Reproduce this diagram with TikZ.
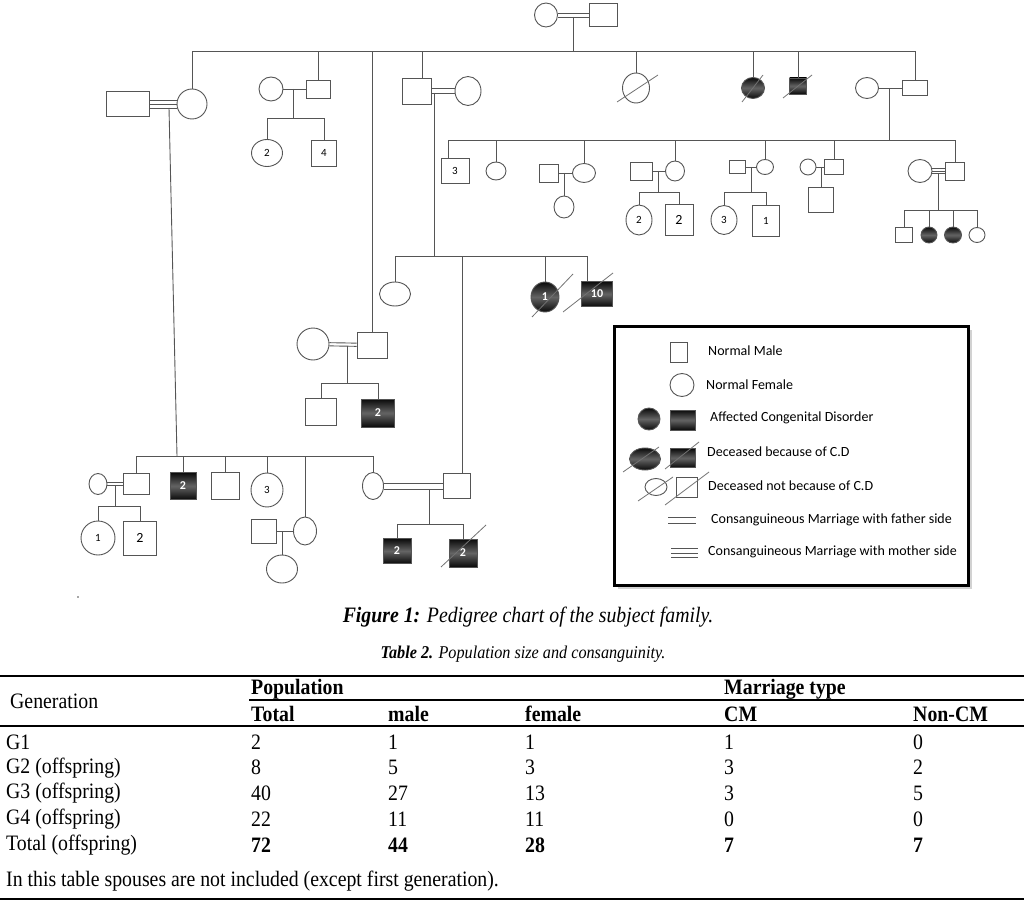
\documentclass[tikz,border=0pt]{standalone}
\usepackage{fontspec}
\setmainfont{Liberation Serif}
\newfontfamily\lgfont{Carlito}
\newfontfamily\tabfont[FakeStretch=0.9]{Liberation Serif}
\usetikzlibrary{shapes.geometric,calc,shadows}
\definecolor{lnc}{RGB}{85,85,85}
\definecolor{slc}{RGB}{115,115,115}
\definecolor{afc}{RGB}{10,10,10}
\definecolor{afm}{RGB}{100,100,100}
\newcommand{\numf}{\lgfont\fontsize{11}{13}\selectfont}
\newcommand{\numl}{\lgfont\fontsize{14}{16}\selectfont}
\newcommand{\afnum}{\lgfont\fontsize{12}{14}\selectfont\bfseries}
\newcommand{\tabf}{\tabfont\fontsize{22}{24}\selectfont}
\newcommand{\dcsd}[3]{\draw[dl] ($(#1)+(#2)$) -- ($(#1)+(#3)$);}
\tikzset{
  ln/.style={draw=lnc,line width=0.9pt},
  dl/.style={draw=slc,line width=0.8pt},
  ml/.style 2 args={rectangle,draw=lnc,line width=0.9pt,fill=white,
    minimum width=#1pt,minimum height=#2pt,inner sep=0pt,font=\numf},
  fm/.style 2 args={ellipse,draw=lnc,line width=0.9pt,fill=white,
    minimum width=#1pt,minimum height=#2pt,inner sep=0pt,font=\numf},
  aff/.style={top color=afc,bottom color=afc,middle color=afm,text=white,font=\afnum},
  mar2/.style={draw=none,
    postaction={ln,transform canvas={yshift=#1}},
    postaction={ln,transform canvas={yshift=-#1}}},
  mar2/.default=2pt,
  mar3/.style={ln,
    postaction={ln,transform canvas={yshift=#1}},
    postaction={ln,transform canvas={yshift=-#1}}},
  mar3/.default=4pt,
  lgbox/.style={rectangle,draw=black,line width=2.6pt,fill=white,
    minimum width=354pt,minimum height=259pt,
    drop shadow={shadow xshift=3pt,shadow yshift=-3pt,fill=black!35}},
  lgt/.style={anchor=west,inner sep=0pt,font=\lgfont\fontsize{14}{16}\selectfont},
  tb/.style={anchor=west,inner sep=0pt,font=\tabf},
}

\begin{document}
\begin{tikzpicture}[x=1pt,y=-1pt]
  \useasboundingbox (0,0) rectangle (1024,901);

  % Generation I
  \node[fm={23}{24}] (gf) at (546,15) {};
  \node[ml={28}{23}] (gm) at (603,15) {};
  \path[mar2] (gf) -- (gm);
  \coordinate (gj) at (573,17);
  \coordinate (s2) at (0,51);
  \draw[ln] (gj) -- (gj |- s2);

  % Generation II
  \node[fm={30}{30}] (a) at (192,104) {};
  \node[ml={43}{25}] (as) at (128,104) {};
  \draw[mar3] (as) -- (a);
  \node[ml={24}{18}] (b) at (318,89) {};
  \node[fm={24}{24}] (bs) at (271,89) {};
  \draw[ln] (bs) -- (b);
  \node[ml={30}{26}] (c) at (372,345) {};
  \node[fm={32}{32}] (cs) at (313,344) {};
  \path[mar2=1.6pt] (cs) -- (c);
  \node[ml={29}{26}] (d) at (417,91) {};
  \node[fm={26}{29}] (ds) at (468,91) {};
  \path[mar2=2.5pt] (d) -- (ds);
  \node[fm={27}{30}] (e) at (636,88) {};
  \node[fm={23}{21},aff] (f) at (753,88) {};
  \node[ml={17}{16},aff] (g) at (798,86) {};
  \node[ml={25}{15}] (h) at (915,88) {};
  \node[fm={23}{21}] (hs) at (867,88) {};
  \draw[ln] (hs) -- (h);
  \dcsd{e}{-19,14}{22,-13}
  \dcsd{f}{-11,14}{10,-13}
  \dcsd{g}{-15,12}{14,-11}

  \draw[ln] (a.north) |- (h.north |- s2) -- (h.north);
  \draw[ln] (c.north) -- (c.north |- s2);
  \draw[ln] ([xshift=5pt]d.north) -- ([xshift=5pt]d.north |- s2);
  \foreach \n in {b,e,f,g}
    \draw[ln] (\n.north) -- (\n.north |- s2);

  % children of b
  \coordinate (bj) at (293,89);
  \coordinate (s3b) at (0,118);
  \node[fm={31}{27}] (b1) at (267,153) {2};
  \node[ml={25}{26}] (b2) at (324,153) {4};
  \draw[ln] (bj) -- (bj |- s3b);
  \draw[ln] (b1.north) |- (b2.north |- s3b) -- (b2.north);

  % children of c
  \coordinate (cj) at (347,346);
  \coordinate (s3c) at (0,383);
  \node[ml={31}{27}] (c1) at (321,412) {};
  \node[ml={33}{28},aff] (c2) at (378,413) {2};
  \draw[ln] (cj) -- (cj |- s3c);
  \draw[ln] (c1.north) |- (c2.north |- s3c) -- (c2.north);

  % children of d
  \coordinate (dj) at (434,93);
  \coordinate (s3d) at (0,256);
  \node[fm={31}{24}] (d1) at (395,294) {};
  \node[ml={27}{25}] (d2) at (457,486) {};
  \node[fm={28}{30},aff] (d3) at (545,297) {1};
  \node[ml={31}{25},aff] (d4) at (597,294) {10};
  \dcsd{d3}{-13,20}{28,-23}
  \dcsd{d4}{-34,18}{16,-21}
  \draw[ln] (dj) -- (dj |- s3d);
  \draw[ln] (d1.north) |- ([xshift=-10pt]d4.north |- s3d) -- ([xshift=-10pt]d4.north);
  \draw[ln] ([xshift=5pt]d2.north) -- ([xshift=5pt]d2.north |- s3d);
  \draw[ln] (d3.north) -- (d3.north |- s3d);

  % children of h
  \coordinate (hj) at (889,88);
  \coordinate (s3h) at (0,140);
  \draw[ln] (hj) -- (hj |- s3h);
  \node[ml={28}{25}] (h1) at (455,171) {3};
  \node[fm={20}{18}] (h2) at (496,171) {};
  \node[ml={19}{18}] (h3s) at (549,173) {};
  \node[fm={23}{19}] (h3) at (584,173) {};
  \node[ml={22}{18}] (h4s) at (641,171) {};
  \node[fm={19}{20}] (h4) at (675,171) {};
  \node[ml={16}{13}] (h5s) at (737,167) {};
  \node[fm={17}{15}] (h5) at (765,167) {};
  \node[fm={16}{16}] (h6s) at (808,167) {};
  \node[ml={19}{15}] (h6) at (834,167) {};
  \node[fm={24}{23}] (h7s) at (920,171) {};
  \node[ml={19}{18}] (h7) at (955,171) {};
  \draw[ln] ([xshift=-7pt]h1.north) |- (h7.north |- s3h) -- (h7.north);
  \foreach \n in {h2,h3,h4,h5,h6}
    \draw[ln] (\n.north) -- (\n.north |- s3h);
  \draw[ln] (h3s) -- (h3);
  \draw[ln] (h4s) -- (h4);
  \draw[ln] (h5s) -- (h5);
  \draw[ln] (h6s) -- (h6);
  \draw[mar3=2.5pt] (h7s) -- (h7);

  % Generation IV under h
  \coordinate (h3j) at (564,173);
  \node[fm={20}{22}] (h3a) at (564,207) {};
  \draw[ln] (h3j) -- (h3a);
  \coordinate (h4j) at (658,171);
  \coordinate (h5j) at (751,167);
  \coordinate (s4h) at (0,192);
  \node[fm={26}{30}] (h4a) at (639,220) {2};
  \node[ml={28}{31},font=\numl] (h4b) at (679,220) {2};
  \node[fm={26}{29}] (h5a) at (724,220) {3};
  \node[ml={27}{31}] (h5b) at (766,221) {1};
  \draw[ln] (h4j) -- (h4j |- s4h);
  \draw[ln] (h4a.north) |- (h4b.north |- s4h) -- (h4b.north);
  \draw[ln] (h5j) -- (h5j |- s4h);
  \draw[ln] (h5a.north) |- (h5b.north |- s4h) -- (h5b.north);
  \coordinate (h6j) at (821,167);
  \node[ml={25}{25}] (h6a) at (821,200) {};
  \draw[ln] (h6j) -- (h6a);
  \coordinate (h7j) at (938,174);
  \coordinate (s4h7) at (0,210);
  \node[ml={17}{15}] (h7a) at (904,235) {};
  \node[fm={16}{16},aff] (h7b) at (929,235) {};
  \node[fm={17}{16},aff] (h7c) at (953,235) {};
  \node[fm={16}{15}] (h7e) at (977,235) {};
  \draw[ln] (h7j) -- (h7j |- s4h7);
  \draw[ln] (h7a.north) |- (h7e.north |- s4h7) -- (h7e.north);
  \foreach \n in {h7b,h7c}
    \draw[ln] (\n.north) -- (\n.north |- s4h7);

  % children of a
  \coordinate (aj) at (169,108);
  \coordinate (ae) at (177,456);
  \draw[ln] (aj) -- (ae);
  \node[ml={26}{21}] (a1) at (136,484) {};
  \node[fm={18}{21}] (a1s) at (98,484) {};
  \path[mar2=1.8pt] (a1s) -- (a1);
  \node[ml={26}{27},aff] (a2) at (183,486) {2};
  \node[ml={28}{27}] (a3) at (225,486) {};
  \node[fm={32}{34}] (a4) at (267,490) {3};
  \node[fm={23}{28}] (a5) at (305,531) {};
  \node[ml={25}{24}] (a5s) at (264,531) {};
  \draw[ln] (a5s) -- (a5);
  \node[fm={21}{27}] (a6) at (373,486) {};
  \path[mar2=3pt] (a6) -- (d2);
  \draw[ln] (a1.north) |- (a6.north |- ae) -- (a6.north);
  \foreach \n in {a2,a3,a4,a5}
    \draw[ln] (\n.north) -- (\n.north |- ae);

  % Generation IV under a
  \coordinate (a1j) at (115,486);
  \coordinate (s5a) at (0,506);
  \node[fm={34}{34}] (a1a) at (98,538) {1};
  \node[ml={33}{34},font=\numl] (a1b) at (140,538) {2};
  \draw[ln] (a1j) -- (a1j |- s5a);
  \draw[ln] (a1a.north) |- (a1b.north |- s5a) -- (a1b.north);
  \coordinate (a5j) at (282,531);
  \node[fm={31}{28}] (a5a) at (282,569) {};
  \draw[ln] (a5j) -- (a5a);
  \coordinate (a6j) at (429,489);
  \coordinate (s5b) at (0,524);
  \node[ml={28}{25},aff] (a6a) at (397,551) {2};
  \node[ml={28}{28},aff] (a6b) at (463,553) {2};
  \draw[ln] (a6j) -- (a6j |- s5b);
  \draw[ln] (a6a.north) |- (a6b.north |- s5b) -- (a6b.north);
  \dcsd{a6b}{-22,14}{23,-28}
  \fill[black!70] (78,597) circle (0.9);

  % Legend
  \node[lgbox] (lg) at (791.5,456) {};
  \node[ml={17}{20}] (lgm) at (679,352) {};
  \node[lgt] (lt1) at (708,351) {Normal Male};
  \node[fm={24}{23}] (lgf) at (682,385) {};
  \node[lgt] (lt2) at (706,385) {Normal Female};
  \node[fm={22}{22},aff] (lgaf) at (649,419) {};
  \node[ml={25}{20},aff] (lgam) at (683,420) {};
  \node[lgt] (lt3) at (710,418) {Affected Congenital Disorder};
  \node[fm={31}{22},aff] (lgdf) at (645,459) {};
  \node[ml={25}{19},aff] (lgdm) at (683,458) {};
  \dcsd{lgdf}{-22,13}{14,-12}
  \dcsd{lgdm}{-18,11}{16,-16}
  \node[lgt] (lt4) at (707,452) {Deceased because of C.D};
  \node[fm={22}{17}] (lgnf) at (656,487) {};
  \node[ml={21}{20}] (lgnm) at (687,487) {};
  \dcsd{lgnf}{-18,14}{17,-10}
  \dcsd{lgnm}{-22,18}{22,-15}
  \node[lgt] (lt5) at (708,486) {Deceased not because of C.D};
  \coordinate (lc2a) at (668,520);
  \coordinate (lc2b) at (696,520);
  \path[mar2=3pt] (lc2a) -- (lc2b);
  \node[lgt] (lt6) at (711,520) {Consanguineous Marriage with father side};
  \coordinate (lc3a) at (671,553);
  \coordinate (lc3b) at (698,553);
  \draw[mar3=4.5pt] (lc3a) -- (lc3b);
  \node[lgt] (lt7) at (708,552) {Consanguineous Marriage with mother side};

  % Captions
  \node[inner sep=0pt,font=\tabf] (cap1) at (528,617)
    {\textbf{\textit{Figure 1:}} \textit{Pedigree chart of the subject family.}};
  \node[inner sep=0pt,font=\tabfont\fontsize{18}{20}\selectfont] (cap2) at (523,654)
    {\textbf{\textit{Table 2.}} \textit{Population size and consanguinity.}};

  % Table
  \draw[line width=2.2pt] (0,676) -- (1024,676);
  \draw[line width=1.6pt] (249,700) -- (1024,700);
  \draw[line width=2.6pt] (0,726) -- (1024,726);
  \draw[line width=2pt] (0,899) -- (1024,899);
  \node[tb] (hg) at (10,701) {Generation};
  \node[tb] (hp) at (251,689) {\textbf{Population}};
  \node[tb] (hm) at (724,689) {\textbf{Marriage type}};
  \node[tb] (h1t) at (251,714) {\textbf{Total}};
  \node[tb] (h2t) at (388,714) {\textbf{male}};
  \node[tb] (h3t) at (525,714) {\textbf{female}};
  \node[tb] (h4t) at (724,714) {\textbf{CM}};
  \node[tb] (h5t) at (913,714) {\textbf{Non-CM}};
  \foreach \lab/\ta/\tb/\tc/\td/\te [count=\i] in
    {G1/2/1/1/1/0,G2 (offspring)/8/5/3/3/2,G3 (offspring)/40/27/13/3/5,
     G4 (offspring)/22/11/11/0/0}{
    \pgfmathsetmacro{\ry}{742+25.7*(\i-1)}
    \node[tb] (r\i) at (6,\ry) {\lab};
    \node[tb] (r\i a) at (251,\ry) {\ta};
    \node[tb] (r\i b) at (388,\ry) {\tb};
    \node[tb] (r\i c) at (525,\ry) {\tc};
    \node[tb] (r\i d) at (724,\ry) {\td};
    \node[tb] (r\i e) at (913,\ry) {\te};
  }
  \node[tb] (r5) at (6,845) {Total (offspring)};
  \node[tb] (r5a) at (251,845) {\textbf{72}};
  \node[tb] (r5b) at (388,845) {\textbf{44}};
  \node[tb] (r5c) at (525,845) {\textbf{28}};
  \node[tb] (r5d) at (724,845) {\textbf{7}};
  \node[tb] (r5e) at (913,845) {\textbf{7}};
  \node[tb] (note) at (6,881) {In this table spouses are not included (except first generation).};
\end{tikzpicture}
\end{document}
